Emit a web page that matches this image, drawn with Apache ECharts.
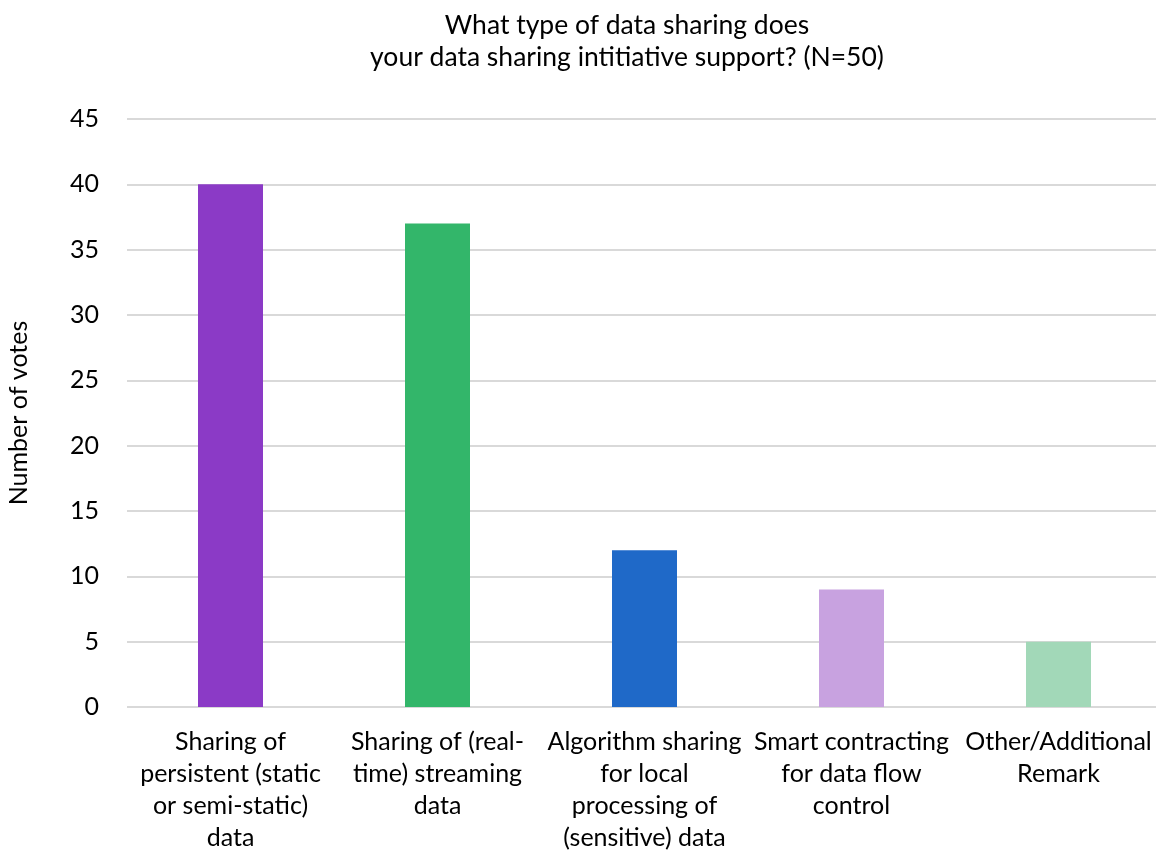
<!DOCTYPE html>
<html><head><meta charset="utf-8">
<script src="https://cdn.jsdelivr.net/npm/echarts@6/dist/echarts.min.js"></script>
<style>html,body{margin:0;padding:0;background:#fff}#c{width:1156px;height:851px}</style>
</head><body><div id="c"></div>
<script>
const categories = [
  "Sharing of\npersistent (static\nor semi-static)\ndata",
  "Sharing of (real-\ntime) streaming\ndata",
  "Algorithm sharing\nfor local\nprocessing of\n(sensitive) data",
  "Smart contracting\nfor data flow\ncontrol",
  "Other/Additional\nRemark"
];
const votes = [40, 37, 12, 9, 5];
const barColors = ["#8B3AC6", "#33B66A", "#1F69C8", "#C8A2E0", "#A2D8B8"];
const titleLines = ["What type of data sharing does", "your data sharing intitiative support? (N=50)"];

const font = "Lato, 'Open Sans', sans-serif";
const chart = echarts.init(document.getElementById('c'));
chart.setOption({
  animation: false,
  title: {
    text: titleLines.join("\n"),
    left: 622, top: 4, textAlign: 'center',
    textStyle: { fontFamily: font, fontSize: 26.5, fontWeight: 'normal', color: '#000', lineHeight: 32 }
  },
  grid: { left: 127, top: 119, width: 1035, bottom: 144, outerBoundsMode: 'none', containLabel: false },
  xAxis: {
    type: 'category', data: categories,
    axisLine: { show: false }, axisTick: { show: false },
    axisLabel: { interval: 0, margin: 19, color: '#000', fontFamily: font, fontSize: 25, lineHeight: 32, align: 'center' }
  },
  yAxis: {
    type: 'value', min: 0, max: 45, interval: 5,
    name: 'Number of votes', nameLocation: 'middle', nameGap: 96, nameRotate: 90,
    nameTextStyle: { fontFamily: font, fontSize: 25, color: '#000' },
    axisLine: { show: false }, axisTick: { show: false },
    axisLabel: { margin: 28, color: '#000', fontFamily: font, fontSize: 25 },
    splitLine: { lineStyle: { color: '#D9D9D9', width: 2 } }
  },
  series: [{
    type: 'bar', data: votes.map((v, i) => ({ value: v, itemStyle: { color: barColors[i] } })),
    barWidth: 65
  }]
});
</script></body></html>
